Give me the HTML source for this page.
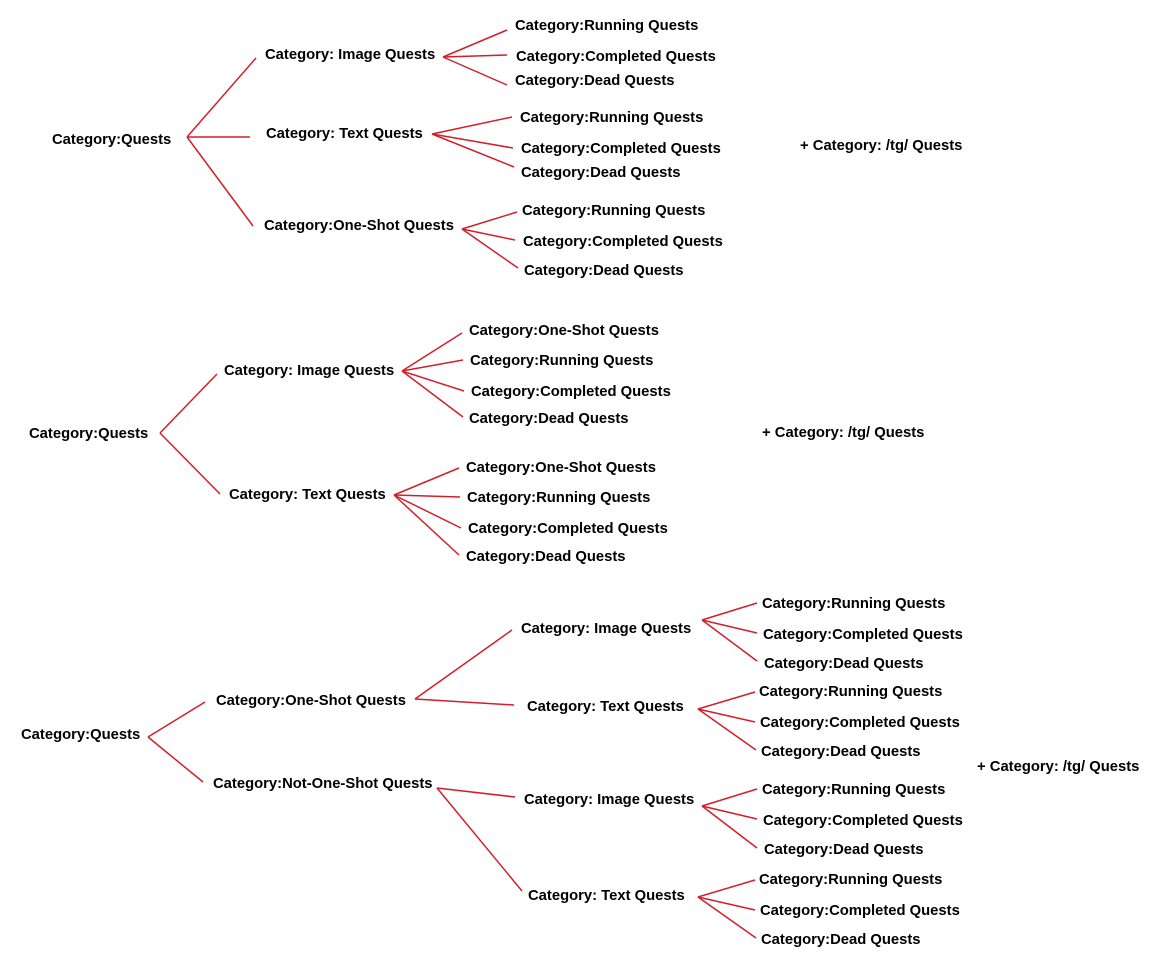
<!DOCTYPE html>
<html><head><meta charset="utf-8"><style>
html,body{margin:0;padding:0;background:#fff;}
svg{display:block}
text{font-family:"Liberation Sans",Arial,sans-serif;font-weight:bold;font-size:14.8px;fill:#000;dominant-baseline:central}
line{stroke:#d0202a;stroke-width:1.5}
</style></head><body>
<svg width="1155" height="967" viewBox="0 0 1155 967">
<!-- Section 1 -->
<text x="52" y="140">Category:Quests</text>
<line x1="187" y1="137" x2="256" y2="58"/><line x1="187" y1="137" x2="250" y2="137"/><line x1="187" y1="137" x2="253" y2="226"/>
<text x="265" y="55">Category: Image Quests</text>
<line x1="443" y1="57" x2="507" y2="30"/><line x1="443" y1="57" x2="507" y2="55"/><line x1="443" y1="57" x2="507" y2="85"/>
<text x="515" y="26">Category:Running Quests</text>
<text x="516" y="57">Category:Completed Quests</text>
<text x="515" y="81">Category:Dead Quests</text>
<text x="266" y="134">Category: Text Quests</text>
<line x1="432" y1="134" x2="512" y2="117"/><line x1="432" y1="134" x2="513" y2="148"/><line x1="432" y1="134" x2="514" y2="167"/>
<text x="520" y="118">Category:Running Quests</text>
<text x="521" y="149">Category:Completed Quests</text>
<text x="521" y="173">Category:Dead Quests</text>
<text x="264" y="226">Category:One-Shot Quests</text>
<line x1="462" y1="229" x2="517" y2="212"/><line x1="462" y1="229" x2="515" y2="240"/><line x1="462" y1="229" x2="518" y2="268"/>
<text x="522" y="211">Category:Running Quests</text>
<text x="523" y="242">Category:Completed Quests</text>
<text x="524" y="271">Category:Dead Quests</text>
<text x="800" y="146">+ Category: /tg/ Quests</text>
<!-- Section 2 -->
<text x="29" y="434">Category:Quests</text>
<line x1="160" y1="433" x2="217" y2="374"/><line x1="160" y1="433" x2="220" y2="494"/>
<text x="224" y="371">Category: Image Quests</text>
<line x1="402" y1="371" x2="462" y2="333"/><line x1="402" y1="371" x2="463" y2="360"/><line x1="402" y1="371" x2="464" y2="391"/><line x1="402" y1="371" x2="463" y2="417"/>
<text x="469" y="331">Category:One-Shot Quests</text>
<text x="470" y="361">Category:Running Quests</text>
<text x="471" y="392">Category:Completed Quests</text>
<text x="469" y="419">Category:Dead Quests</text>
<text x="229" y="495">Category: Text Quests</text>
<line x1="394" y1="495" x2="459" y2="468"/><line x1="394" y1="495" x2="460" y2="497"/><line x1="394" y1="495" x2="461" y2="528"/><line x1="394" y1="495" x2="459" y2="555"/>
<text x="466" y="468">Category:One-Shot Quests</text>
<text x="467" y="498">Category:Running Quests</text>
<text x="468" y="529">Category:Completed Quests</text>
<text x="466" y="557">Category:Dead Quests</text>
<text x="762" y="433">+ Category: /tg/ Quests</text>
<!-- Section 3 -->
<text x="21" y="735">Category:Quests</text>
<line x1="148" y1="737" x2="205" y2="702"/><line x1="148" y1="737" x2="203" y2="782"/>
<text x="216" y="701">Category:One-Shot Quests</text>
<line x1="415" y1="699" x2="512" y2="630"/><line x1="415" y1="699" x2="514" y2="705"/>
<text x="213" y="784">Category:Not-One-Shot Quests</text>
<line x1="437" y1="788" x2="515" y2="797"/><line x1="437" y1="788" x2="522" y2="891"/>
<text x="521" y="629">Category: Image Quests</text>
<line x1="702" y1="620" x2="757" y2="603"/><line x1="702" y1="620" x2="757" y2="633"/><line x1="702" y1="620" x2="757" y2="661"/>
<text x="762" y="604">Category:Running Quests</text>
<text x="763" y="635">Category:Completed Quests</text>
<text x="764" y="664">Category:Dead Quests</text>
<text x="527" y="707">Category: Text Quests</text>
<line x1="698" y1="709" x2="755" y2="692"/><line x1="698" y1="709" x2="755" y2="722"/><line x1="698" y1="709" x2="756" y2="750"/>
<text x="759" y="692">Category:Running Quests</text>
<text x="760" y="723">Category:Completed Quests</text>
<text x="761" y="752">Category:Dead Quests</text>
<text x="524" y="800">Category: Image Quests</text>
<line x1="702" y1="806" x2="757" y2="789"/><line x1="702" y1="806" x2="757" y2="819"/><line x1="702" y1="806" x2="757" y2="848"/>
<text x="762" y="790">Category:Running Quests</text>
<text x="763" y="821">Category:Completed Quests</text>
<text x="764" y="850">Category:Dead Quests</text>
<text x="528" y="896">Category: Text Quests</text>
<line x1="698" y1="897" x2="755" y2="880"/><line x1="698" y1="897" x2="755" y2="910"/><line x1="698" y1="897" x2="756" y2="938"/>
<text x="759" y="880">Category:Running Quests</text>
<text x="760" y="911">Category:Completed Quests</text>
<text x="761" y="940">Category:Dead Quests</text>
<text x="977" y="767">+ Category: /tg/ Quests</text>
</svg>
</body></html>
